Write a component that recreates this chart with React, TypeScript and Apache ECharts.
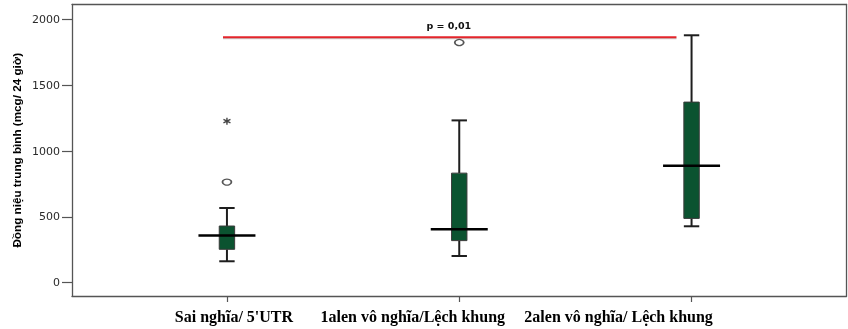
import React, { useEffect, useRef } from "react";
import * as echarts from "echarts";

const categories = ["Sai nghĩa/ 5'UTR", "1alen vô nghĩa/Lệch khung", "2alen vô nghĩa/ Lệch khung"];
const lowerWhisker = [162, 202, 428];
const q1 = [253, 319, 488];
const median = [357, 405, 889];
const q3 = [430, 832, 1372];
const upperWhisker = [567, 1233, 1880];
const outliers = [
  [0, 764],
  [1, 1825],
];
const extremes = [[0, 1227]];
const yTicks = [0, 500, 1000, 1500, 2000];
const sigLine = [
  [-0.017, 1865],
  [1.935, 1865],
];
const sigText = "p = 0,01";
const sigTextPos = [0.955, 1952];
const labelPositions = [0.03, 0.8, 1.686];

export default function App() {
  const ref = useRef<HTMLDivElement>(null);
  useEffect(() => {
    if (!ref.current) return;
    const chart = echarts.init(ref.current, null, { renderer: "svg" });
    const boxData = categories.map((_, i) => [i, lowerWhisker[i], q1[i], median[i], q3[i], upperWhisker[i]]);
    const frameLine = () => ({ show: true, onZero: false, lineStyle: { color: "#555", width: 1.3 } });
    chart.setOption({
      animation: false,
      grid: {
        left: 72,
        right: 1.5,
        top: 4.5,
        bottom: 33,
        containLabel: false,
        outerBoundsMode: "none",
      },
      xAxis: [
        {
          type: "value",
          min: -0.667,
          max: 2.667,
          splitLine: { show: false },
          axisLine: frameLine(),
          axisTick: { show: true, customValues: [0, 1, 2], length: 6, lineStyle: { color: "#555", width: 1.2 } },
          axisLabel: {
            customValues: labelPositions,
            formatter: (v: number) => {
              let best = 0;
              labelPositions.forEach((p, i) => {
                if (Math.abs(p - v) < Math.abs(labelPositions[best] - v)) best = i;
              });
              return categories[best];
            },
            margin: 12,
            fontFamily: "'Liberation Serif', 'Times New Roman', serif",
            fontWeight: "bold",
            fontSize: 16,
            color: "#000",
          },
        },
        {
          type: "value",
          position: "top",
          min: -0.667,
          max: 2.667,
          splitLine: { show: false },
          axisLine: frameLine(),
          axisTick: { show: false },
          axisLabel: { show: false },
        },
      ],
      yAxis: [
        {
          type: "value",
          min: -102,
          max: 2114,
          name: "Đồng niệu trung bình (mcg/ 24 giờ)",
          nameLocation: "middle",
          nameRotate: 90,
          nameGap: 50,
          nameMoveOverlap: false,
          nameTextStyle: {
            fontFamily: "'Liberation Sans Narrow', 'Liberation Sans', Arial, sans-serif",
            fontWeight: "bold",
            fontSize: 11.7,
            color: "#000",
          },
          splitLine: { show: false },
          axisLine: frameLine(),
          axisTick: { show: true, customValues: yTicks, length: 10, lineStyle: { color: "#555", width: 1.2 } },
          axisLabel: {
            customValues: yTicks,
            formatter: (v: number) => String(v),
            margin: 12,
            fontFamily: "'DejaVu Sans', sans-serif",
            fontSize: 11,
            color: "#2a2a2a",
          },
        },
        {
          type: "value",
          position: "right",
          min: -102,
          max: 2114,
          splitLine: { show: false },
          axisLine: frameLine(),
          axisTick: { show: false },
          axisLabel: { show: false },
        },
      ],
      series: [
        {
          type: "line",
          data: sigLine.map((p) => [p[0], p[1] - 10]),
          symbol: "none",
          silent: true,
          lineStyle: { color: "rgba(120,120,120,0.4)", width: 1.5 },
          z: 2,
        },
        {
          type: "line",
          data: sigLine,
          symbol: "none",
          lineStyle: { color: "#e4252b", width: 2 },
          z: 3,
        },
        {
          type: "custom",
          data: boxData,
          encode: { x: 0, y: [1, 2, 3, 4, 5] },
          z: 4,
          renderItem: (params: any, api: any) => {
            const x = api.value(0);
            const pLow = api.coord([x, api.value(1)]);
            const pQ1 = api.coord([x, api.value(2)]);
            const pMed = api.coord([x, api.value(3)]);
            const pQ3 = api.coord([x, api.value(4)]);
            const pUp = api.coord([x, api.value(5)]);
            const cx = pMed[0];
            const boxHalf = 7.7;
            const medHalf = 28.5;
            const whisk = { stroke: "#1e1e1e", lineWidth: 2 };
            return {
              type: "group",
              children: [
                { type: "line", shape: { x1: cx, y1: pQ3[1], x2: cx, y2: pUp[1] }, style: whisk },
                { type: "line", shape: { x1: cx, y1: pLow[1], x2: cx, y2: pQ1[1] }, style: whisk },
                { type: "line", shape: { x1: cx - boxHalf, y1: pUp[1], x2: cx + boxHalf, y2: pUp[1] }, style: whisk },
                { type: "line", shape: { x1: cx - boxHalf, y1: pLow[1], x2: cx + boxHalf, y2: pLow[1] }, style: whisk },
                {
                  type: "rect",
                  shape: { x: cx - boxHalf, y: pQ3[1], width: boxHalf * 2, height: pQ1[1] - pQ3[1] },
                  style: { fill: "#0b5330", stroke: "#3a3a3a", lineWidth: 1 },
                },
                { type: "line", shape: { x1: cx - medHalf, y1: pMed[1], x2: cx + medHalf, y2: pMed[1] }, style: { stroke: "#000", lineWidth: 2.5 } },
              ],
            };
          },
        },
        {
          type: "scatter",
          data: outliers,
          symbol: "circle",
          symbolSize: [9, 6],
          itemStyle: { color: "#fff", borderColor: "#555", borderWidth: 1.5, opacity: 1 },
          z: 5,
        },
        {
          type: "scatter",
          data: extremes,
          symbol: "path://M0,-5L0,5M-4.33,-2.5L4.33,2.5M-4.33,2.5L4.33,-2.5",
          symbolSize: 7,
          itemStyle: { color: "none", borderColor: "#444", borderWidth: 1.4, opacity: 1 },
          z: 5,
        },
        {
          type: "custom",
          data: [sigTextPos],
          encode: { x: 0, y: 1 },
          z: 6,
          renderItem: (params: any, api: any) => {
            const p = api.coord([api.value(0), api.value(1)]);
            return {
              type: "text",
              x: p[0],
              y: p[1],
              style: {
                text: sigText,
                align: "center",
                verticalAlign: "middle",
                fontFamily: "'DejaVu Sans', sans-serif",
                fontWeight: "bold",
                fontSize: 9.5,
                fill: "#111",
              },
            };
          },
        },
      ],
    });
    return () => chart.dispose();
  }, []);
  return <div ref={ref} style={{ position: "fixed", left: 0, top: 0, width: 848, height: 329 }} />;
}
